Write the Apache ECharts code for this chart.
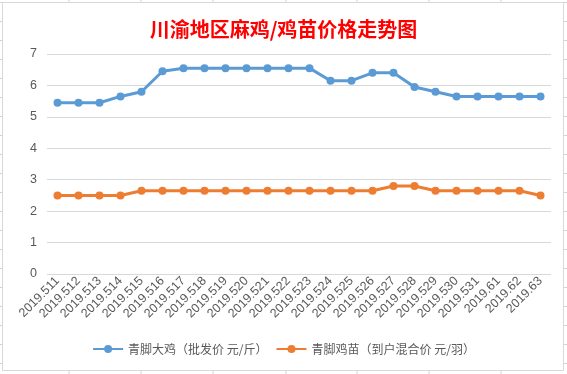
<!DOCTYPE html>
<html><head><meta charset="utf-8">
<script src="https://cdn.jsdelivr.net/npm/echarts@6/dist/echarts.min.js"></script>
<style>html,body{margin:0;padding:0;background:#fff;}#c{width:567px;height:374px;}</style>
</head><body><div id="c"></div>
<script>
const categories = ['2019.511','2019.512','2019.513','2019.514','2019.515','2019.516','2019.517','2019.518','2019.519','2019.520','2019.521','2019.522','2019.523','2019.524','2019.525','2019.526','2019.527','2019.528','2019.529','2019.530','2019.531','2019.61','2019.62','2019.63'];
const bigChicken = [5.45,5.45,5.45,5.65,5.8,6.45,6.55,6.55,6.55,6.55,6.55,6.55,6.55,6.15,6.15,6.4,6.4,5.95,5.8,5.65,5.65,5.65,5.65,5.65];
const chick = [2.5,2.5,2.5,2.5,2.65,2.65,2.65,2.65,2.65,2.65,2.65,2.65,2.65,2.65,2.65,2.65,2.8,2.8,2.65,2.65,2.65,2.65,2.65,2.5];
const seriesNames = ['青脚大鸡（批发价 元/斤）','青脚鸡苗（到户混合价 元/羽）'];
const titleText = '川渝地区麻鸡/鸡苗价格走势图';

// spreadsheet cell grid behind the chart box (decoration)
const bg = [];
const cols = [69,141,213,286,357,429,501];
for (const x of cols) bg.push({type:'line', silent:true, z:-10, shape:{x1:x,y1:0,x2:x,y2:374}, style:{stroke:'#d4d4d4',lineWidth:1}});
for (let y = 2; y < 374; y += 19) bg.push({type:'line', silent:true, z:-10, shape:{x1:0,y1:y+0.5,x2:567,y2:y+0.5}, style:{stroke:'#d4d4d4',lineWidth:1}});
bg.push({type:'rect', silent:true, z:-5, shape:{x:2.5,y:2.5,width:561,height:368}, style:{fill:'#fff',stroke:'#d9d9d9',lineWidth:1}});

const chart = echarts.init(document.getElementById('c'));
chart.setOption({
  animation:false,
  graphic: bg,
  title:{text:titleText, left:'center', top:14, textStyle:{color:'#ff0000', fontSize:20, fontWeight:'bold', fontFamily:'Noto Sans CJK SC'}},
  grid:{left:47, right:16, top:54, bottom:100},
  legend:{bottom:14, left:'center', itemWidth:30, itemHeight:10, itemGap:8,
    textStyle:{color:'#595959', fontSize:12, fontFamily:'Noto Sans CJK SC'},
    data:seriesNames},
  xAxis:{type:'category', data:categories, boundaryGap:true,
    axisLine:{show:false}, axisTick:{show:false},
    axisLabel:{rotate:45, interval:0, color:'#595959', fontSize:12.5, margin:5, fontFamily:'Liberation Sans'}},
  yAxis:{type:'value', min:0, max:7, interval:1,
    axisLine:{show:false}, axisTick:{show:false},
    axisLabel:{color:'#595959', fontSize:12.5, margin:10, fontFamily:'Liberation Sans'},
    splitLine:{lineStyle:{color:'#d9d9d9', width:1}}},
  series:[
    {name:seriesNames[0], type:'line', data:bigChicken, symbol:'circle', symbolSize:8,
     itemStyle:{color:'#5B9BD5'}, lineStyle:{color:'#5B9BD5', width:3}},
    {name:seriesNames[1], type:'line', data:chick, symbol:'circle', symbolSize:8,
     itemStyle:{color:'#ED7D31'}, lineStyle:{color:'#ED7D31', width:3}}
  ]
});
</script></body></html>
